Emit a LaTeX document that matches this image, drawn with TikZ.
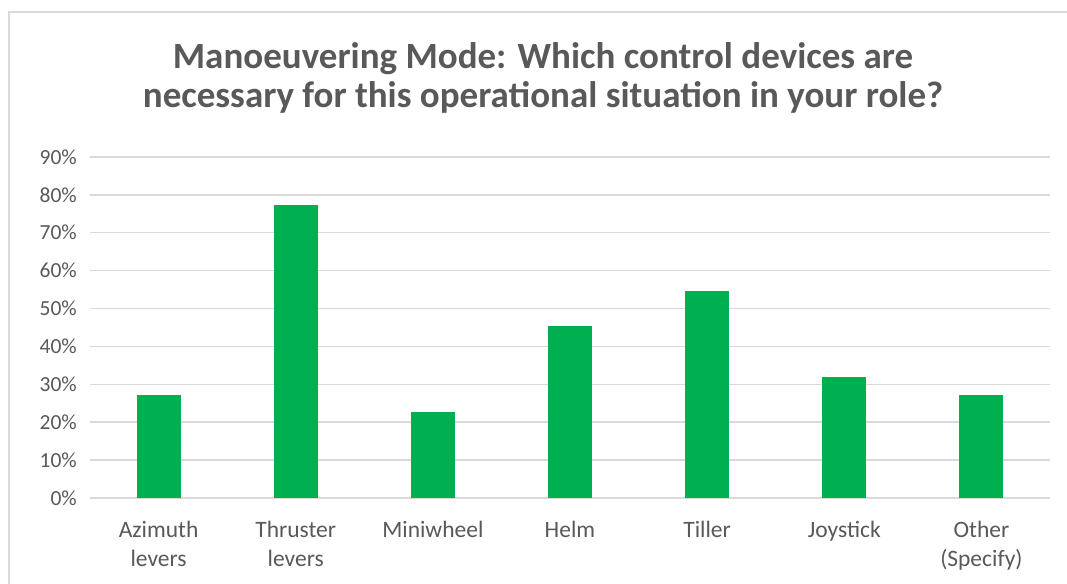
\documentclass[tikz,border=0pt]{standalone}
\usepackage{fontspec}
\setmainfont{Carlito}
\definecolor{bargreen}{HTML}{00B050}
\definecolor{gridgray}{HTML}{D9D9D9}
\definecolor{textgray}{HTML}{595959}
\begin{document}
\begin{tikzpicture}[x=1pt,y=-1pt,
  gridline/.style={draw=gridgray,line width=1.5pt},
  framebox/.style={draw=gridgray,line width=1.5pt},
  bar/.style={fill=bargreen,draw=none},
  ticklabel/.style={text=textgray,font=\fontsize{21.5}{28}\selectfont,inner sep=0pt,anchor=east},
  catlabel/.style={text=textgray,font=\fontsize{23.5}{29}\selectfont,inner sep=0pt,anchor=north,align=center},
  titletext/.style={text=textgray,font=\fontsize{37}{38}\selectfont\bfseries,inner sep=0pt,anchor=base}]
\useasboundingbox (0,0) rectangle (1067,583);
\fill[white] (0,0) rectangle (1067,583);
% chart area border (runs off the right and bottom edges)
\draw[framebox] (1070,12) -- (9,12) -- (9,590);
% title
\node[titletext] (title1) at (543,69) {Manoeuvering Mode: Which control devices are};
\node[titletext] (title2) at (543,107) {necessary for this operational situation in your role?};
% value axis: gridlines and percentage labels
\foreach \k/\txt in {0/0\%,1/10\%,2/20\%,3/30\%,4/40\%,5/50\%,6/60\%,7/70\%,8/80\%,9/90\%}{
  \pgfmathsetmacro{\yy}{498-37.9*\k}
  \draw[gridline] (90,\yy) -- (1050,\yy);
  \node[ticklabel] (tick\k) at (77,\yy) {\txt};
}
% bars and category labels
\foreach \i/\v/\lab in {0/27.27/{Azimuth\\levers},1/77.27/{Thruster\\levers},2/22.73/{Miniwheel},3/45.45/{Helm},4/54.55/{Tiller},5/31.82/{Joystick},6/27.27/{Other\\(Specify)}}{
  \pgfmathsetmacro{\cx}{90+137.14*(\i+0.5)}
  \pgfmathsetmacro{\top}{498-3.79*\v}
  \fill[bar] (\cx-22,498) rectangle (\cx+22,\top);
  \node[catlabel] (cat\i) at (\cx,521) {\lab};
}
\end{tikzpicture}
\end{document}
